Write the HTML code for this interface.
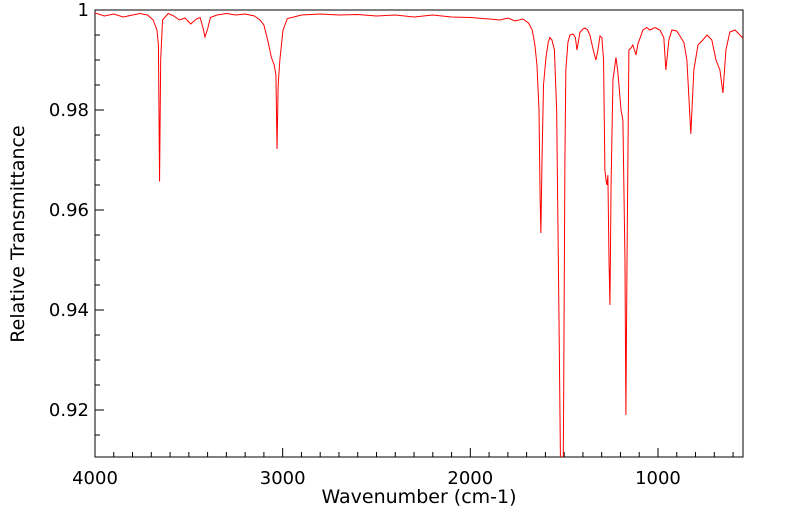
<!DOCTYPE html>
<html><head><meta charset="utf-8"><style>
html,body{margin:0;padding:0;background:#fff;overflow:hidden;width:799px;height:516px;}
svg{display:block;font-family:"DejaVu Sans","Liberation Sans",sans-serif;}
</style></head><body>
<svg id="chart" width="799" height="516">
<defs><clipPath id="pc"><rect x="95" y="10" width="648" height="447"/></clipPath></defs>
<rect x="95" y="10" width="648" height="447" fill="#fff" stroke="#000" stroke-width="1"/>
<g id="ticks"></g>
<g id="labels"></g>
<path id="line" clip-path="url(#pc)" fill="none" stroke="#ff0000" stroke-width="1"/>
<text x="419" y="503" text-anchor="middle" font-size="19">Wavenumber (cm-1)</text>
<text transform="translate(24,234) rotate(-90)" text-anchor="middle" font-size="19">Relative Transmittance</text>
</svg>
<script>
const wavenumbers=[4000,3950,3900,3850,3800,3760,3720,3690,3670,3662,3656,3650,3640,3610,3580,3550,3520,3490,3460,3440,3425,3414,3400,3385,3350,3300,3250,3200,3150,3121,3100,3080,3060,3045,3036,3030,3024,3015,2998,2975,2940,2900,2800,2700,2600,2500,2400,2300,2200,2100,2000,1900,1842,1800,1762,1720,1690,1670,1656,1645,1634,1628,1624,1618,1610,1597,1585,1576,1565,1552,1540,1528,1517,1510,1503,1496,1491,1480,1469,1453,1440,1432,1425,1416,1400,1389,1375,1363,1345,1331,1320,1309,1299,1290,1283,1277,1272,1267,1261,1256,1250,1240,1224,1215,1208,1197,1187,1176,1171,1165,1155,1144,1134,1117,1107,1080,1059,1045,1032,1016,990,969,958,942,926,900,883,862,846,825,809,787,761,739,713,691,670,654,638,617,590,563,548];
const transmittance=[.9994,.9988,.9992,.9986,.9990,.9993,.9990,.9980,.9960,.9930,.9657,.9900,.9980,.9993,.9988,.9980,.9984,.9972,.9982,.9985,.9965,.9946,.9962,.9985,.9990,.9993,.9990,.9992,.9988,.9980,.9970,.9940,.9905,.9890,.9870,.9722,.9850,.9900,.9960,.9983,.9986,.9990,.9992,.9990,.9991,.9988,.9990,.9986,.9990,.9986,.9985,.9982,.9980,.9984,.9978,.9982,.9974,.9960,.9930,.9890,.9800,.9620,.9554,.9700,.9850,.9905,.9935,.9945,.9940,.9920,.9800,.9400,.9000,.8800,.9200,.9700,.9880,.9935,.9950,.9952,.9945,.9920,.9935,.9955,.9962,.9964,.9960,.9950,.9920,.9900,.9920,.9948,.9945,.9900,.9680,.9660,.9650,.9670,.9500,.9410,.9650,.9860,.9905,.9880,.9850,.9800,.9780,.9500,.9190,.9500,.9920,.9924,.9930,.9910,.9932,.9960,.9965,.9960,.9962,.9965,.9960,.9945,.9880,.9940,.9960,.9958,.9948,.9935,.9900,.9752,.9880,.9930,.9940,.9950,.9940,.9900,.9880,.9834,.9920,.9956,.9960,.9950,.9944];
const xTickLabels=[4000,3000,2000,1000];
const yTickLabels=[1,0.98,0.96,0.94,0.92];
const X0=95,X1=743,Y0=10,Y1=457,WMAX=4000,WMIN=547,TMAX=1,TMIN=0.9106;
function xs(w){return X0+(WMAX-w)/(WMAX-WMIN)*(X1-X0);}
function ys(t){return Y0+(TMAX-t)/(TMAX-TMIN)*(Y1-Y0);}
const NS='http://www.w3.org/2000/svg';
let d='';
for(let i=0;i<wavenumbers.length;i++){d+=(i?'L':'M')+xs(wavenumbers[i]).toFixed(2)+','+ys(transmittance[i]).toFixed(2);}
document.getElementById('line').setAttribute('d',d);
const tg=document.getElementById('ticks'),lg=document.getElementById('labels');
function ln(x1,y1,x2,y2,name){const l=document.createElementNS(NS,'line');l.setAttribute('x1',x1);l.setAttribute('y1',y1);l.setAttribute('x2',x2);l.setAttribute('y2',y2);l.setAttribute('stroke','#000');l.setAttribute('stroke-width','1');


tg.appendChild(l);}
for(let w=4000;w>=WMIN;w-=100){const x=xs(w);const major=w%1000===0;ln(x,Y1,x,Y1-(major?9:5),major?'x-major-tick':'x-minor-tick');}
for(let t=1;t>=TMIN;t-=0.005){const y=ys(t);const major=Math.abs(Math.round(t*50)-t*50)<1e-6;ln(X0,y,X0+(major?9:5),y,major?'y-major-tick':'y-minor-tick');}
xTickLabels.forEach(v=>{const t=document.createElementNS(NS,'text');t.setAttribute('x',xs(v));t.setAttribute('y',484);t.setAttribute('text-anchor','middle');t.setAttribute('font-size','18');t.textContent=v;


lg.appendChild(t);});
yTickLabels.forEach(v=>{const t=document.createElementNS(NS,'text');t.setAttribute('x',89);t.setAttribute('y',ys(v)+6);t.setAttribute('text-anchor','end');t.setAttribute('font-size','18');t.textContent=String(v);


lg.appendChild(t);});
</script>
</body></html>
